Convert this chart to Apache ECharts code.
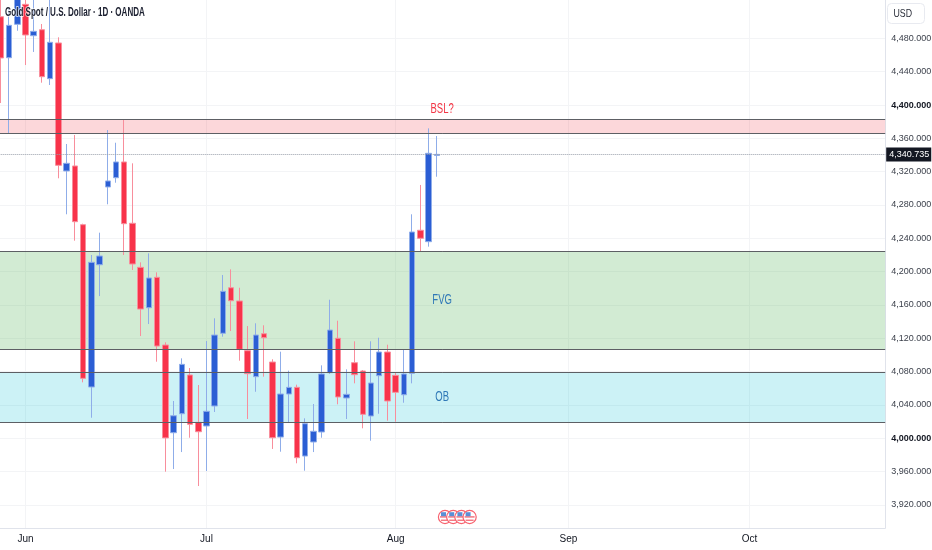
<!DOCTYPE html>
<html><head><meta charset="utf-8">
<style>html,body{margin:0;padding:0;background:#fff}#c{width:932px;height:550px}</style>
<script src="https://cdn.jsdelivr.net/npm/echarts@6/dist/echarts.min.js"></script>
</head><body><div id="c"></div>
<script>
const chartTitle = 'Gold Spot / U.S. Dollar · 1D · OANDA';
const opens = [4506,4456.8,4496.9,4520.9,4483.2,4490.4,4431.6,4474.5,4320.8,4326.8,4256.3,4061.4,4208.2,4301.6,4312.7,4331.6,4258,4205.1,4156.6,4193.1,4111.8,4006.5,4029.3,4075.8,4019,4014.6,4038.6,4125.9,4180.6,4164.7,4105,4073.8,4125.4,4091.4,4001.3,4053,4061,3978.5,3995.4,4007.4,4078.6,4119.9,4048.2,4090.6,4080.6,4026.6,4075,4103.4,4075.4,4052.1,4077.8,4249.6,4235.9,4339.5];
const closes = [4456.5,4495.7,4535.7,4484.1,4488.5,4434,4475.3,4327.6,4330,4259.9,4071.8,4211.1,4218.7,4308.8,4331.6,4257.5,4209.1,4155,4192.3,4110.6,4000.3,4026.9,4088.6,4016.6,4007.7,4032.2,4123.8,4176.3,4165,4106.6,4077.4,4123.8,4120.6,4000.5,4053,4061,3976.5,4017.3,4008.2,4077,4129.8,4049.4,4052.6,4076.2,4028.6,4066.2,4103.4,4044.6,4055,4077,4247.5,4240,4342,4340.735];
const lows = [4402.4,4366.4,4489.2,4448,4463.7,4426.8,4424,4312,4268.8,4237.1,4067,4024.5,4170.6,4280.8,4306.7,4219.9,4201.9,4122.6,4137,4091.8,3959.7,3962.9,3983.3,4000.5,3942.5,3960.5,4031.4,4121.8,4128.6,4093,4023,4055.7,4073.8,3987,3983.7,4019,3969.8,3960.9,3983.3,4000.5,4077,4040.6,4023,4065.8,4011.8,3996.9,4029.3,4021,4019.7,4042.5,4065.8,4223.9,4229.9,4313.9];
const highs = [4532,4516.5,4543,4533.3,4538,4497.3,4533.3,4481.3,4353.2,4364,4257.5,4219.9,4246.7,4370,4354.7,4382,4330,4211.1,4221.9,4199.1,4115.1,4044.6,4095.8,4084.2,4063.8,4116.6,4143.9,4195.9,4202.7,4180.6,4134.6,4137.9,4135.5,4094.7,4103.8,4081,4064.2,4023.8,4041,4087.4,4166.2,4141,4082.6,4116.3,4081.8,4116.3,4120.6,4112.2,4078.6,4106.6,4268.8,4304,4372,4362.8];
const barCount = 108;
const monthNames = ['Jun','Jul','Aug','Sep','Oct'];
const monthSlots = [3,25,48,69,91];
const priceTicks = [3920,3960,4000,4040,4080,4120,4160,4200,4240,4280,4320,4360,4400,4440,4480];
const boldTicks = [4000,4400];
const lastPrice = 4340.735;
const zoneNames = ['BSL?','FVG','OB'];
const zoneTops = [4382.6,4224.1,4078.8];
const zoneBottoms = [4366,4106.7,4019.3];
const zoneFills = ['rgba(242,54,69,0.2)','rgba(76,175,80,0.25)','rgba(0,188,212,0.2)'];
const zoneLabelPrices = [4395.2,4165.9,4049.4];
const zoneLabelColors = ['#f23645','#2f78b7','#2f78b7'];
const flagCount = 4;

const font = '"Liberation Sans",sans-serif';
const categories = Array.from({length: barCount}, (_, i) => String(i));
const fmt = v => v.toLocaleString('en-US', {minimumFractionDigits: 3, maximumFractionDigits: 3});

const chart = echarts.init(document.getElementById('c'), null, {renderer: 'canvas'});

const flags = [];
for (let i = 0; i < flagCount; i++) {
  const cx = 445 + i * 8.2, cy = 517, r = 6.6;
  flags.push({type: 'circle', shape: {cx, cy, r}, style: {fill: '#fff', stroke: '#f7626f', lineWidth: 1.2}, z: 20 + i});
  flags.push({type: 'rect', shape: {x: cx - 5, y: cy - 0.8, width: 10, height: 1.4}, style: {fill: '#f26a76'}, z: 20 + i});
  flags.push({type: 'rect', shape: {x: cx - 4, y: cy + 2.6, width: 8, height: 1.3}, style: {fill: '#f26a76'}, z: 20 + i});
  flags.push({type: 'rect', shape: {x: cx - 4, y: cy - 4.8, width: 5, height: 4}, style: {fill: '#5b8fd6'}, z: 20 + i});
}

chart.setOption({
  animation: false,
  backgroundColor: '#ffffff',
  grid: {left: -3.3, top: 0, width: 888.5, height: 528, containLabel: false, outerBoundsMode: 'none'},
  xAxis: {
    type: 'category', data: categories, boundaryGap: true,
    axisLine: {show: true, lineStyle: {color: '#e0e3eb', width: 1}},
    axisTick: {show: false},
    splitLine: {show: false},
    axisLabel: {
      show: true, margin: 6, color: '#131722', fontFamily: font, fontSize: 10, hideOverlap: false,
      interval: (i) => monthSlots.includes(i),
      formatter: (v, i) => { const m = monthSlots.indexOf(i); return m >= 0 ? monthNames[m] : ''; }
    }
  },
  yAxis: {
    type: 'value', position: 'right', min: 3892.1, max: 4526.1, scale: true,
    axisLine: {show: true, onZero: false, lineStyle: {color: '#e0e3eb', width: 1}},
    axisTick: {show: false, customValues: priceTicks},
    splitLine: {show: true, lineStyle: {color: '#f3f4f6', width: 1}},
    axisLabel: {
      customValues: priceTicks, margin: 6, color: '#3a3f4a', fontFamily: font, fontSize: 9,
      formatter: v => boldTicks.includes(v) ? '{b|' + fmt(v) + '}' : fmt(v),
      rich: {b: {color: '#131722', fontFamily: font, fontSize: 9, fontWeight: 'bold'}}
    }
  },
  graphic: [
    {type: 'text', x: 5, y: 7, scaleX: 0.67, z: 30, style: {text: chartTitle, fill: '#1c2030', font: 'bold 12px ' + font, stroke: 'rgba(255,255,255,0.7)', lineWidth: 2}},
    {type: 'rect', shape: {x: 887.5, y: 3.5, width: 37, height: 20, r: 4}, style: {fill: '#fff', stroke: '#e8eaf0', lineWidth: 1}, z: 10},
    {type: 'text', x: 893.5, y: 8, scaleX: 0.8, z: 11, style: {text: 'USD', fill: '#2a2e39', font: '11px ' + font}},
    {type: 'group', children: flags, z: 20}
  ],
  series: [
    {
      type: 'line', data: [], z: 0, silent: true,
      markLine: {
        silent: true, symbol: 'none', animation: false, label: {show: false}, z: 0,
        data: monthSlots.map(s => ({xAxis: s, lineStyle: {color: '#f3f4f6', width: 1, type: 'solid'}}))
      }
    },
    {
      type: 'line', data: [], z: 1, silent: true,
      markArea: {
        silent: true,
        data: zoneNames.map((n, i) => [
          {yAxis: zoneTops[i], itemStyle: {color: zoneFills[i]}},
          {yAxis: zoneBottoms[i]}
        ])
      },
      markLine: {
        silent: true, symbol: 'none', animation: false, label: {show: false},
        data: zoneTops.concat(zoneBottoms).map(v => ({yAxis: v, lineStyle: {color: '#5d5f64', width: 1, type: 'solid'}}))
      }
    },
    {
      type: 'candlestick', z: 3, barWidth: 6,
      data: opens.map((o, i) => [o, closes[i], lows[i], highs[i]]),
      itemStyle: {color: '#2b5ed4', color0: '#f8334a', borderColor: '#8fade9', borderColor0: '#f88e9c', borderWidth: 1},
      markLine: {
        silent: true, symbol: 'none', animation: false,
        data: [{yAxis: lastPrice}],
        lineStyle: {color: '#9aa0ab', type: 'dotted', width: 1},
        label: {
          show: true, position: 'end', distance: 1, formatter: fmt(lastPrice),
          color: '#fff', backgroundColor: '#131722', padding: [3, 2, 2, 3],
          fontFamily: font, fontSize: 9
        }
      }
    },
    {
      type: 'custom', z: 5, silent: true, clip: false,
      data: zoneNames.map((n, i) => [53, zoneLabelPrices[i], i]),
      encode: {x: 0, y: 1},
      renderItem: (params, api) => {
        const i = api.value(2);
        const p = api.coord([api.value(0), api.value(1)]);
        return {
          type: 'text', x: p[0] + 5.3, y: p[1], scaleX: 0.68,
          style: {text: zoneNames[i], fill: zoneLabelColors[i], font: '14px ' + font, align: 'center', verticalAlign: 'middle'}
        };
      }
    }
  ]
});
</script></body></html>
